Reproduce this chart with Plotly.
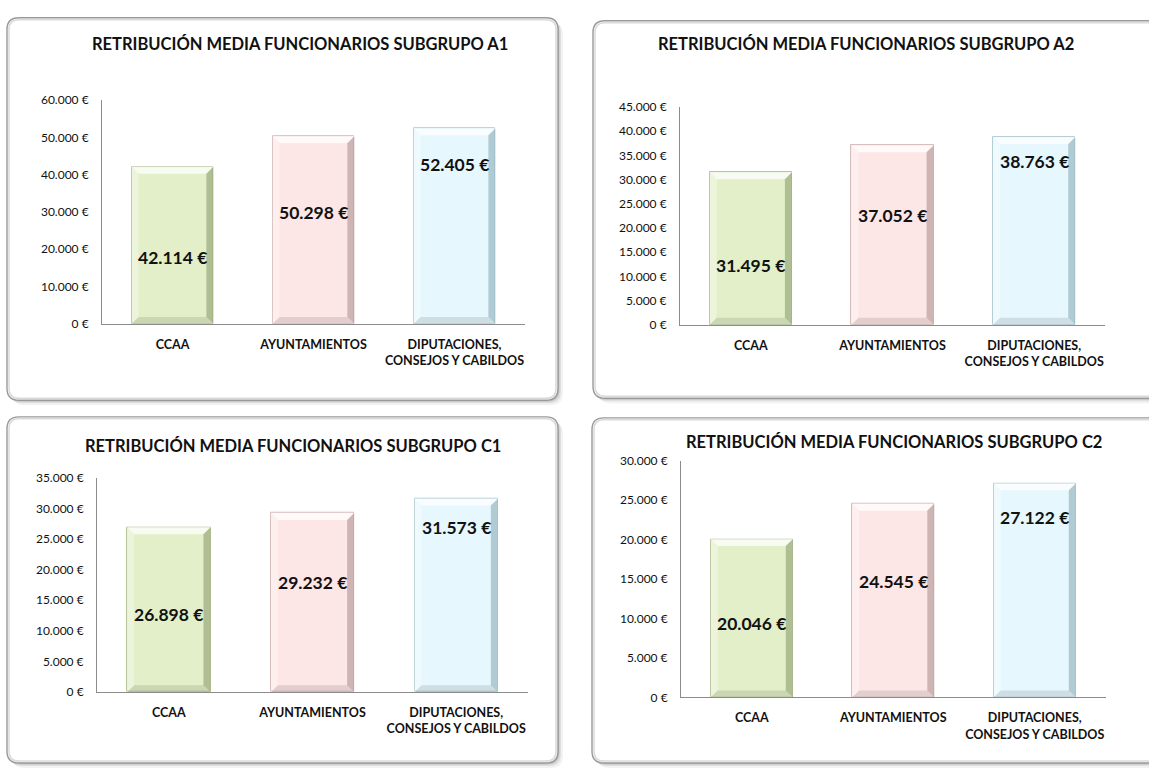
import plotly.graph_objects as go

W, H = 1149, 773

# ---------------- data ----------------
CATEGORIES = ["CCAA", "AYUNTAMIENTOS", "DIPUTACIONES,<br>CONSEJOS Y CABILDOS"]

TITLES = [
    "RETRIBUCIÓN MEDIA FUNCIONARIOS SUBGRUPO A1",
    "RETRIBUCIÓN MEDIA FUNCIONARIOS SUBGRUPO A2",
    "RETRIBUCIÓN MEDIA FUNCIONARIOS SUBGRUPO C1",
    "RETRIBUCIÓN MEDIA FUNCIONARIOS SUBGRUPO C2",
]

VALUES_A1 = [42114, 50298, 52405]
VALUES_A2 = [31495, 37052, 38763]
VALUES_C1 = [26898, 29232, 31573]
VALUES_C2 = [20046, 24545, 27122]

TICKVALS_A1 = [0, 10000, 20000, 30000, 40000, 50000, 60000]
TICKTEXT_A1 = ["0 €", "10.000 €", "20.000 €", "30.000 €", "40.000 €", "50.000 €", "60.000 €"]
TICKVALS_A2 = [0, 5000, 10000, 15000, 20000, 25000, 30000, 35000, 40000, 45000]
TICKTEXT_A2 = ["0 €", "5.000 €", "10.000 €", "15.000 €", "20.000 €", "25.000 €",
               "30.000 €", "35.000 €", "40.000 €", "45.000 €"]
TICKVALS_C1 = [0, 5000, 10000, 15000, 20000, 25000, 30000, 35000]
TICKTEXT_C1 = ["0 €", "5.000 €", "10.000 €", "15.000 €", "20.000 €", "25.000 €",
               "30.000 €", "35.000 €"]
TICKVALS_C2 = [0, 5000, 10000, 15000, 20000, 25000, 30000]
TICKTEXT_C2 = ["0 €", "5.000 €", "10.000 €", "15.000 €", "20.000 €", "25.000 €", "30.000 €"]

# ---------------- style / layout ----------------
BAR_FILL = ["#E2EFC8", "#FDE6E6", "#E6F8FD"]
BAR_DARK = ["#9FAE82", "#BFA3A3", "#9EBCC4"]
BAR_LINE = ["#B7C49C", "#D6BDBD", "#B5CDD4"]
FONT = "Lato"

# panels in pixels: x0, y0, x1, y1
PANELS = [(7, 10, 558, 400), (593, 13, 1170, 398), (7, 417, 558, 770), (592, 418, 1170, 770)]
# plot areas in pixels: x0, x1, ytop, ybottom
PLOTS = [(102, 525, 94, 322), (680, 1105, 101, 323), (97, 528, 479, 697.7), (681, 1105.5, 461.7, 703)]
TITLE_POS = [(300, 37), (866, 37), (293, 447), (894, 443)]
LABEL_FRAC = [[0.425, 0.596, 0.813], [0.386, 0.607, 0.868], [0.472, 0.61, 0.85], [0.47, 0.60, 0.84]]
BAR_WIDTH = 0.58
BEVEL_PX = 7

charts = [
    (VALUES_A1, TICKVALS_A1, TICKTEXT_A1),
    (VALUES_A2, TICKVALS_A2, TICKTEXT_A2),
    (VALUES_C1, TICKVALS_C1, TICKTEXT_C1),
    (VALUES_C2, TICKVALS_C2, TICKTEXT_C2),
]


def px(x):
    return x / W


def py(y):
    return 1 - y / H


def rrect_path(x0, y0, x1, y1, r):
    rx, ry = r / W, r / H
    X0, X1, Y0, Y1 = px(x0), px(x1), py(y0), py(y1)
    return (f"M {X0+rx},{Y0} L {X1-rx},{Y0} Q {X1},{Y0} {X1},{Y0-ry} "
            f"L {X1},{Y1+ry} Q {X1},{Y1} {X1-rx},{Y1} L {X0+rx},{Y1} "
            f"Q {X0},{Y1} {X0},{Y1+ry} L {X0},{Y0-ry} Q {X0},{Y0} {X0+rx},{Y0} Z")


def fmt_eur(v):
    return f"{v:,}".replace(",", ".") + " €"


def poly(pts):
    return "M " + " L ".join(f"{a},{b}" for a, b in pts) + " Z"


fig = go.Figure()
shapes = []
annotations = []

# panels with soft shadow
for (x0, y0, x1, y1) in PANELS:
    for off, op in ((5, 0.05), (3, 0.08), (1.5, 0.12)):
        shapes.append(dict(type="path", xref="paper", yref="paper", layer="below",
                           path=rrect_path(x0 + off, y0 + off, x1 + off, y1 + off, 12),
                           fillcolor=f"rgba(0,0,0,{op})", line=dict(width=0)))
    shapes.append(dict(type="path", xref="paper", yref="paper", layer="below",
                       path=rrect_path(x0, y0, x1, y1, 12),
                       fillcolor="white", line=dict(color="#999999", width=1.4)))
    shapes.append(dict(type="path", xref="paper", yref="paper", layer="below",
                       path=rrect_path(x0 + 2, y0 + 2, x1 - 2, y1 - 2, 10),
                       fillcolor="rgba(0,0,0,0)", line=dict(color="#DADADA", width=1.5)))

layout_axes = {}
for k, ((vals, tv, tt), (x0, x1, yt, yb)) in enumerate(zip(charts, PLOTS)):
    n = "" if k == 0 else str(k + 1)
    xa, ya = "x" + n, "y" + n
    ymax = tv[-1]
    xs = list(range(len(CATEGORIES)))
    fig.add_trace(go.Bar(
        x=xs, y=vals, xaxis=xa, yaxis=ya, width=BAR_WIDTH,
        marker=dict(color=BAR_FILL, line=dict(color=BAR_LINE, width=1)),
        showlegend=False, hoverinfo="skip",
    ))
    layout_axes["xaxis" + n] = dict(
        domain=[px(x0), px(x1)], anchor=ya, range=[-0.5, 2.5],
        tickvals=xs, ticktext=CATEGORIES, showgrid=False, zeroline=False,
        showline=True, linecolor="#8C8C8C", linewidth=1, ticks="",
        ticklabelstandoff=9,
        tickfont=dict(family=FONT, size=12.5, color="#111111", weight="bold"),
        fixedrange=True,
    )
    layout_axes["yaxis" + n] = dict(
        domain=[py(yb), py(yt)], anchor=xa, range=[0, ymax],
        tickvals=tv, ticktext=tt, showgrid=False, zeroline=False,
        showline=True, linecolor="#8C8C8C", linewidth=1, ticks="",
        ticklabelstandoff=10,
        tickfont=dict(family=FONT, size=12, color="#111111"),
        fixedrange=True,
    )
    # bevel
    cat_px = (x1 - x0) / 3.0
    bx = BEVEL_PX / cat_px
    by = BEVEL_PX * ymax / (yb - yt)
    hw = BAR_WIDTH / 2
    for i, v in enumerate(vals):
        a0, a1, b0, b1 = i - hw, i + hw, 0, v
        top = [(a0, b1), (a1, b1), (a1 - bx, b1 - by), (a0 + bx, b1 - by)]
        right = [(a1, b1), (a1, b0), (a1 - bx, b0 + by), (a1 - bx, b1 - by)]
        bottom = [(a0, b0), (a1, b0), (a1 - bx, b0 + by), (a0 + bx, b0 + by)]
        left = [(a0, b0), (a0, b1), (a0 + bx, b1 - by), (a0 + bx, b0 + by)]
        for pts, col, op in ((top, "#FFFFFF", 0.75), (left, "#FFFFFF", 0.35),
                             (bottom, "#000000", 0.10), (right, BAR_DARK[i], 0.75)):
            shapes.append(dict(type="path", xref=xa, yref=ya, layer="above", opacity=op,
                               path=poly(pts), fillcolor=col, line=dict(width=0)))
        annotations.append(dict(
            x=i, y=v * LABEL_FRAC[k][i], xref=xa, yref=ya, text=fmt_eur(v),
            showarrow=False, font=dict(family=FONT, size=17.5, color="#111111", weight="bold"),
        ))
    tx, tyy = TITLE_POS[k]
    annotations.append(dict(
        x=px(tx), y=py(tyy), xref="paper", yref="paper", text=TITLES[k],
        showarrow=False, xanchor="center", yanchor="middle",
        font=dict(family=FONT, size=16.5, color="#111111", weight="bold"),
    ))

fig.update_layout(
    width=W, height=H, margin=dict(l=0, r=0, t=0, b=0, pad=0),
    paper_bgcolor="white", plot_bgcolor="rgba(0,0,0,0)",
    shapes=shapes, annotations=annotations, bargap=0,
    **layout_axes,
)

fig.write_html("out.html", config={"displayModeBar": False},
               post_script="document.body.style.margin='0';document.body.style.overflow='hidden';")
